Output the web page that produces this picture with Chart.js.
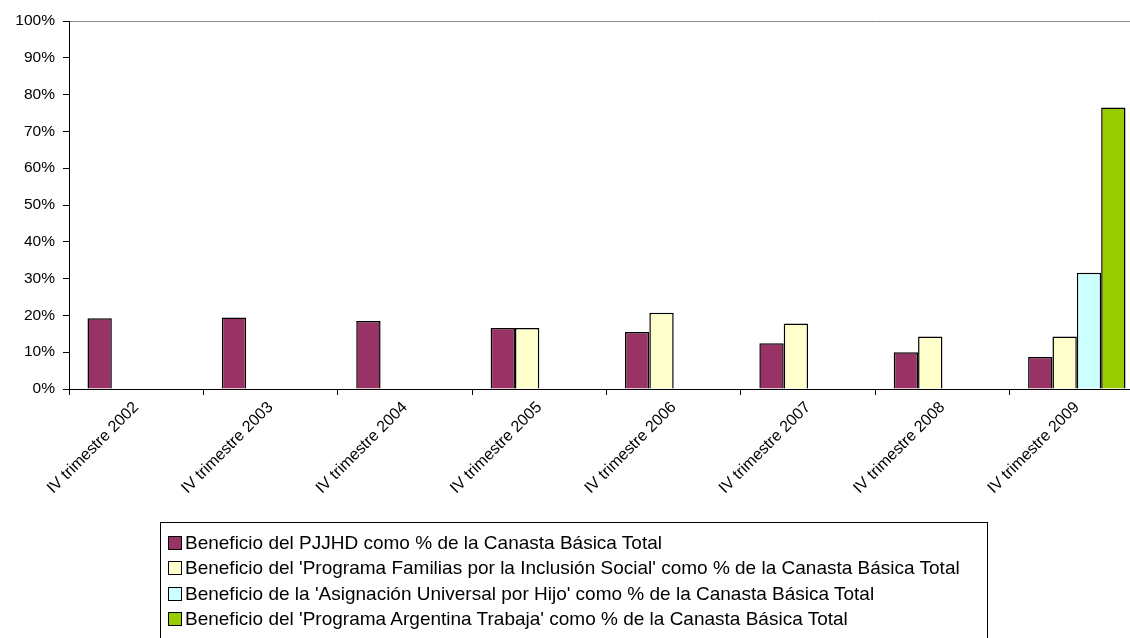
<!DOCTYPE html>
<html lang="es">
<head>
    <meta charset="UTF-8">
    <title>Beneficios como % de la Canasta Básica Total</title>
    <script src="https://cdn.jsdelivr.net/npm/chart.js"></script>
    <style>
        html, body { margin: 0; padding: 0; background: #fff; }
        #wrap { position: relative; width: 1130px; height: 638px; overflow: hidden; }
        #chart { position: absolute; left: 0; top: 0; }
        #legend {
            position: absolute; left: 160px; top: 522px; width: 828px; height: 130px;
            border: 1px solid #000; box-sizing: border-box;
            font-family: "Liberation Sans", Arial, sans-serif; font-size: 19px; color: #000;
            padding-top: 7px;
        }
        #legend div { height: 25.3px; line-height: 25.3px; padding-left: 7px; white-space: nowrap; }
        #legend span.box {
            display: inline-block; width: 12px; height: 12px; border: 1px solid #000;
            margin-right: 3px; vertical-align: -1px;
        }
    </style>
</head>
<body>
<div id="wrap">
    <canvas id="chart" width="1144" height="638"></canvas>
    <div id="legend"></div>
</div>

<script>
    // categories and series
    const categories = ['IV trimestre 2002', 'IV trimestre 2003', 'IV trimestre 2004', 'IV trimestre 2005',
                        'IV trimestre 2006', 'IV trimestre 2007', 'IV trimestre 2008', 'IV trimestre 2009'];
    const pjjhd    = [19.2, 19.4, 18.5, 16.6, 15.5, 12.4, 10.0, 8.7];
    const familias = [null, null, null, 16.6, 20.7, 17.8, 14.3, 14.3];
    const auh      = [null, null, null, null, null, null, null, 31.6];
    const pat      = [null, null, null, null, null, null, null, 76.5];

    const seriesNames = [
        'Beneficio del PJJHD como % de la Canasta Básica Total',
        "Beneficio del 'Programa Familias por la Inclusión Social' como % de la Canasta Básica Total",
        "Beneficio de la 'Asignación Universal por Hijo' como % de la Canasta Básica Total",
        "Beneficio del 'Programa Argentina Trabaja' como % de la Canasta Básica Total"
    ];
    const seriesColors = ['#993366', '#FFFFCC', '#CCFFFF', '#99CC00'];
    const seriesData = [pjjhd, familias, auh, pat];

    const yTicks = [0, 10, 20, 30, 40, 50, 60, 70, 80, 90, 100];

    const family = '"Liberation Sans", Arial, sans-serif';

    new Chart(document.getElementById('chart'), {
        type: 'bar',
        data: {
            labels: categories,
            datasets: seriesData.map((d, i) => ({
                label: seriesNames[i],
                data: d,
                backgroundColor: seriesColors[i],
                borderColor: '#000',
                borderWidth: 1.5,
                categoryPercentage: 0.725,
                barPercentage: 1
            }))
        },
        options: {
            responsive: false,
            animation: false,
            devicePixelRatio: 1,
            layout: { padding: { top: 21, right: 0, left: 0, bottom: 0 } },
            plugins: { legend: { display: false }, tooltip: { enabled: false } },
            scales: {
                x: {
                    grid: { drawOnChartArea: false, tickLength: 6, tickColor: '#000', offset: true },
                    border: { color: '#000', width: 1 },
                    ticks: { color: '#000', font: { family: family, size: 16 }, minRotation: 45, maxRotation: 45,
                             autoSkip: false, padding: 3 },
                    afterFit: s => { s.height = 249; }
                },
                y: {
                    min: 0, max: 100,
                    afterBuildTicks: s => { s.ticks = yTicks.map(v => ({ value: v })); },
                    grid: {
                        color: c => c.tick && c.tick.value === 100 ? '#8c8c8c' : 'rgba(0,0,0,0)',
                        tickColor: '#000', tickLength: 6
                    },
                    border: { color: '#000', width: 1 },
                    ticks: { color: '#000', font: { family: family, size: 15.5 }, padding: 8, callback: v => v + '%' },
                    afterFit: s => { s.width = 69; }
                }
            }
        }
    });

    // legend below the chart, one row per series
    const legend = document.getElementById('legend');
    seriesNames.forEach((name, i) => {
        const row = document.createElement('div');
        const box = document.createElement('span');
        box.className = 'box';
        box.style.background = seriesColors[i];
        row.appendChild(box);
        row.appendChild(document.createTextNode(name));
        legend.appendChild(row);
    });
</script>
</body>
</html>
